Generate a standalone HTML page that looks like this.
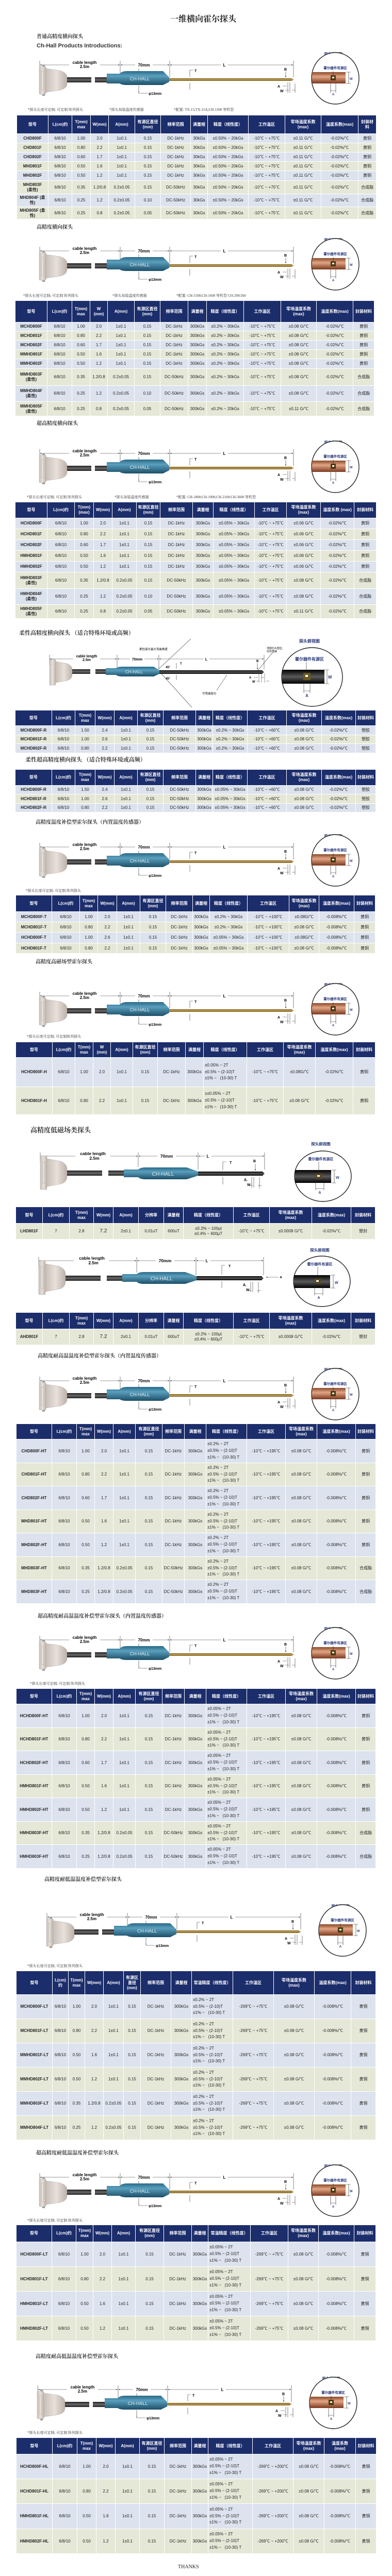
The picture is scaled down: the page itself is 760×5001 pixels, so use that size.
<!DOCTYPE html>
<html><head><meta charset="utf-8">
<style>
*{margin:0;padding:0;box-sizing:border-box}
html{width:760px;height:5001px;overflow:hidden}
body{width:760px;height:5001px;position:relative;background:#fff;overflow:hidden;font-family:"Liberation Sans","Noto Sans CJK SC",sans-serif}
.h{position:absolute;font-family:"Liberation Serif","Noto Serif CJK SC",serif;font-size:10px;line-height:14px;color:#333;white-space:nowrap;font-weight:bold}
.n{position:absolute;font-family:"Liberation Serif","Noto Serif CJK SC",serif;font-size:7px;line-height:10px;color:#333;white-space:nowrap}
table{position:absolute;border-collapse:collapse;table-layout:fixed;font-size:8px;color:#222}
th{background:#1c2d6b;color:#fff;font-weight:bold;border:1px solid #fff;line-height:1.25;text-align:center;font-size:8px;overflow:hidden;white-space:nowrap}
td{border:1px solid #fff;text-align:center;white-space:nowrap;overflow:hidden;line-height:1.2}
tr.a td{background:#dce3ee}
tr.b td{background:#e5e8d7}
td:first-child{font-weight:bold}
td.p{text-align:left;padding-left:2px;line-height:1.6}
svg.d{position:absolute;left:0}
</style></head><body>
<svg width="0" height="0" style="position:absolute">
<defs>
<linearGradient id="gb" x1="0" y1="0" x2="0" y2="1"><stop offset="0" stop-color="#2a6a88"/><stop offset=".35" stop-color="#5a9fbd"/><stop offset="1" stop-color="#1d4f68"/></linearGradient>
<linearGradient id="gr" x1="0" y1="0" x2="0" y2="1"><stop offset="0" stop-color="#6b5420"/><stop offset=".5" stop-color="#c8a54e"/><stop offset="1" stop-color="#6b5420"/></linearGradient>
<linearGradient id="gcu" x1="0" y1="0" x2="0" y2="1"><stop offset="0" stop-color="#8a4a2a"/><stop offset=".4" stop-color="#e2a584"/><stop offset="1" stop-color="#7a3a20"/></linearGradient>
<linearGradient id="gc" x1="0" y1="0" x2="1" y2="0"><stop offset="0" stop-color="#c9bfb8"/><stop offset=".5" stop-color="#e8e0da"/><stop offset="1" stop-color="#bdb2aa"/></linearGradient>
<linearGradient id="gk" x1="0" y1="0" x2="0" y2="1"><stop offset="0" stop-color="#1e1e1e"/><stop offset=".5" stop-color="#6a6a6a"/><stop offset="1" stop-color="#1e1e1e"/></linearGradient>
<linearGradient id="gbk" x1="0" y1="0" x2="0" y2="1"><stop offset="0" stop-color="#000"/><stop offset=".5" stop-color="#5a5a5a"/><stop offset="1" stop-color="#000"/></linearGradient>
<marker id="ah" viewBox="0 0 6 6" refX="6" refY="3" markerWidth="4" markerHeight="4" orient="auto-start-reverse"><path d="M0 0L6 3L0 6z" fill="#222"/></marker>
</defs></svg>

<div class="h" style="left:330px;top:27px;font-size:16px;line-height:22px;color:#222">一维横向霍尔探头</div>
<div class="h" style="left:71px;top:65px">普通高精度横向探头</div>
<div class="h" style="left:71px;top:82px;font-family:'Liberation Sans',sans-serif;font-size:11px">Ch-Hall Products Introductions:</div>

<svg class="d" style="top:100px" width="760" height="112" font-family="Liberation Sans,sans-serif">
<g stroke="#333" stroke-width=".6" fill="none"><path d="M77 18V40M233 18V46M329 18V50M569 18V50M368 36H374M269 77V81H286M548 67H556M553 75H560M558 60V80M562 60V80M572 62V80M566 75H572"/><line x1="78" y1="26" x2="232" y2="26" marker-start="url(#ah)" marker-end="url(#ah)"/><line x1="234" y1="26" x2="328" y2="26" marker-start="url(#ah)" marker-end="url(#ah)"/><line x1="330" y1="26" x2="568" y2="26" marker-start="url(#ah)" marker-end="url(#ah)"/><path d="M368 36V49M368 74V61M269 33V38M269 80V66M554 39V50" marker-end="url(#ah)"/></g>
<rect x="134" y="17" width="60" height="17" fill="#fff"/><text x="164" y="24" font-size="8" font-weight="bold" text-anchor="middle">cable length</text><text x="164" y="32" font-size="8" font-weight="bold" text-anchor="middle">2.5m</text>
<rect x="262" y="20" width="34" height="10" fill="#fff"/><text x="279" y="29" font-size="8" font-weight="bold" text-anchor="middle">70mm</text>
<rect x="428" y="20" width="14" height="10" fill="#fff"/><text x="435" y="29" font-size="8" font-weight="bold" text-anchor="middle">L</text>
<text x="377" y="40" font-size="7" font-weight="bold">T</text><text x="288" y="84" font-size="7" font-weight="bold">φ13mm</text><text x="551" y="37" font-size="7" font-weight="bold">B</text><text x="538" y="70" font-size="7" font-weight="bold">A</text><text x="543" y="79" font-size="7" font-weight="bold">W</text>
<rect x="82" y="26" width="5" height="4" fill="#999"/><rect x="82" y="82" width="5" height="4" fill="#999"/>
<rect x="76" y="29" width="13" height="54" rx="2" fill="url(#gc)" stroke="#aaa" stroke-width=".5"/><rect x="80" y="38" width="5" height="36" fill="none" stroke="#aaa" stroke-width=".5"/>
<path d="M89 33L116 37Q130 41 130 50L130 62Q130 72 116 75L89 79Z" fill="url(#gc)" stroke="#aaa" stroke-width=".5"/>
<rect x="130" y="50" width="47" height="10" fill="url(#gk)"/><rect x="184" y="50" width="28" height="10" fill="url(#gk)"/>
<path d="M207 43L232 43Q236 38 246 38L316 38L328 50L328 59L316 65L246 65Q236 65 232 62L207 62Z" fill="url(#gb)"/>
<text x="271" y="56" font-size="9" fill="#e0eef5" text-anchor="middle">CH-HALL</text>
<path d="M328 52L565 52L570 54.5L565 57L328 57Z" fill="url(#gr)"/>
<text x="646" y="7" font-size="7" font-weight="bold" fill="#2a3a7a" text-anchor="middle">探头俯视图</text>
<ellipse cx="650" cy="52" rx="46" ry="50" fill="#fff" stroke="#222" stroke-width="1.4"/>
<rect x="605" y="40" width="65" height="22" fill="url(#gcu)"/><rect x="641" y="46" width="10" height="10" fill="#4a3a10"/><rect x="644" y="49" width="4" height="3" fill="#fff"/>
<g stroke="#222" stroke-width=".6" fill="none"><path d="M671 40H680M671 62H680M676 40V62M641 62V80M651 62V80M641 76H651M646 38V46"/></g>
<text x="650" y="34" font-size="6.5" font-weight="bold" fill="#2a3a7a" text-anchor="middle">霍尔器件有源区</text><text x="678" y="55" font-size="6" font-weight="bold" fill="#2a3a7a">W</text><text x="646" y="85" font-size="6" font-weight="bold" fill="#2a3a7a" text-anchor="middle">A</text>
</svg>

<div class="n" style="left:54px;top:208px">*探头长度可定制; 可定制 阵列探头</div>
<div class="n" style="left:212px;top:208px">*探头加装温度传感器</div>
<div class="n" style="left:337px;top:208px">*配置: TX-15;TX-15A;CH-1300 等机型</div>

<table style="left:32px;top:223px;width:697px">
<colgroup><col style="width:61px"><col style="width:46px"><col style="width:36px"><col style="width:35px"><col style="width:51px"><col style="width:50px"><col style="width:58px"><col style="width:33px"><col style="width:79px"><col style="width:71px"><col style="width:70px"><col style="width:72px"><col style="width:35px"></colgroup>
<tr style="height:36px"><th>型号</th><th>L(cm)约</th><th>T(mm)<br>max</th><th>W(mm)</th><th>A(mm)</th><th>有源区直径<br>(mm)</th><th>频率范围</th><th>满量程</th><th>精度（线性度）</th><th>工作温区</th><th>零场温度系数<br>(max)</th><th>温度系数(max)</th><th>封装材<br>料</th></tr>
<tr class="a" style="height:18px"><td>CHD800F</td><td>6/8/10</td><td>1.00</td><td>2.0</td><td>1±0.1</td><td>0.15</td><td>DC-1kHz</td><td>30kGs</td><td>±0.50% ~ 20kGs</td><td>-10℃ ~ +75℃</td><td>±0.11 G/℃</td><td>-0.02%/℃</td><td>黄铜</td></tr>
<tr class="b" style="height:18px"><td>CHD801F</td><td>6/8/10</td><td>0.80</td><td>2.2</td><td>1±0.1</td><td>0.15</td><td>DC-1kHz</td><td>30kGs</td><td>±0.50% ~ 20kGs</td><td>-10℃ ~ +75℃</td><td>±0.11 G/℃</td><td>-0.02%/℃</td><td>黄铜</td></tr>
<tr class="a" style="height:18px"><td>CHD802F</td><td>6/8/10</td><td>0.60</td><td>1.7</td><td>1±0.1</td><td>0.15</td><td>DC-1kHz</td><td>30kGs</td><td>±0.50% ~ 20kGs</td><td>-10℃ ~ +75℃</td><td>±0.11 G/℃</td><td>-0.02%/℃</td><td>黄铜</td></tr>
<tr class="b" style="height:18px"><td>MHD801F</td><td>6/8/10</td><td>0.50</td><td>1.6</td><td>1±0.1</td><td>0.15</td><td>DC-1kHz</td><td>30kGs</td><td>±0.50% ~ 20kGs</td><td>-10℃ ~ +75℃</td><td>±0.11 G/℃</td><td>-0.02%/℃</td><td>黄铜</td></tr>
<tr class="a" style="height:19px"><td>MHD802F</td><td>6/8/10</td><td>0.50</td><td>1.2</td><td>1±0.1</td><td>0.15</td><td>DC-1kHz</td><td>30kGs</td><td>±0.50% ~ 20kGs</td><td>-10℃ ~ +75℃</td><td>±0.11 G/℃</td><td>-0.02%/℃</td><td>黄铜</td></tr>
<tr class="b" style="height:26px"><td>MHD803F<br>(柔性)</td><td>6/8/10</td><td>0.35</td><td>1.2/0.8</td><td>0.2±0.05</td><td>0.15</td><td>DC-50kHz</td><td>30kGs</td><td>±0.50% ~ 20kGs</td><td>-10℃ ~ +75℃</td><td>±0.11 G/℃</td><td>-0.02%/℃</td><td>合成脂</td></tr>
<tr class="a" style="height:25px"><td>MHD804F (柔<br>性)</td><td>6/8/10</td><td>0.25</td><td>1.2</td><td>0.2±0.05</td><td>0.10</td><td>DC-50kHz</td><td>30kGs</td><td>±0.50% ~ 20kGs</td><td>-10℃ ~ +75℃</td><td>±0.11 G/℃</td><td>-0.02%/℃</td><td>合成脂</td></tr>
<tr class="b" style="height:24px"><td>MHD805F (柔<br>性)</td><td>6/8/10</td><td>0.25</td><td>0.8</td><td>0.2±0.05</td><td>0.05</td><td>DC-50kHz</td><td>30kGs</td><td>±0.50% ~ 20kGs</td><td>-10℃ ~ +75℃</td><td>±0.11 G/℃</td><td>-0.02%/℃</td><td>合成脂</td></tr>
</table>

<div class="h" style="left:71px;top:435px">高精度横向探头</div>
<svg class="d" style="top:461px" width="760" height="112" font-family="Liberation Sans,sans-serif">
<g stroke="#333" stroke-width=".6" fill="none"><path d="M77 18V40M233 18V46M329 18V50M569 18V50M368 36H374M269 77V81H286M548 67H556M553 75H560M558 60V80M562 60V80M572 62V80M566 75H572"/><line x1="78" y1="26" x2="232" y2="26" marker-start="url(#ah)" marker-end="url(#ah)"/><line x1="234" y1="26" x2="328" y2="26" marker-start="url(#ah)" marker-end="url(#ah)"/><line x1="330" y1="26" x2="568" y2="26" marker-start="url(#ah)" marker-end="url(#ah)"/><path d="M368 36V49M368 74V61M269 33V38M269 80V66M554 39V50" marker-end="url(#ah)"/></g>
<rect x="134" y="17" width="60" height="17" fill="#fff"/><text x="164" y="24" font-size="8" font-weight="bold" text-anchor="middle">cable length</text><text x="164" y="32" font-size="8" font-weight="bold" text-anchor="middle">2.5m</text>
<rect x="262" y="20" width="34" height="10" fill="#fff"/><text x="279" y="29" font-size="8" font-weight="bold" text-anchor="middle">70mm</text>
<rect x="428" y="20" width="14" height="10" fill="#fff"/><text x="435" y="29" font-size="8" font-weight="bold" text-anchor="middle">L</text>
<text x="377" y="40" font-size="7" font-weight="bold">T</text><text x="288" y="84" font-size="7" font-weight="bold">φ13mm</text><text x="551" y="37" font-size="7" font-weight="bold">B</text><text x="538" y="70" font-size="7" font-weight="bold">A</text><text x="543" y="79" font-size="7" font-weight="bold">W</text>
<rect x="82" y="26" width="5" height="4" fill="#999"/><rect x="82" y="82" width="5" height="4" fill="#999"/>
<rect x="76" y="29" width="13" height="54" rx="2" fill="url(#gc)" stroke="#aaa" stroke-width=".5"/><rect x="80" y="38" width="5" height="36" fill="none" stroke="#aaa" stroke-width=".5"/>
<path d="M89 33L116 37Q130 41 130 50L130 62Q130 72 116 75L89 79Z" fill="url(#gc)" stroke="#aaa" stroke-width=".5"/>
<rect x="130" y="50" width="47" height="10" fill="url(#gk)"/><rect x="184" y="50" width="28" height="10" fill="url(#gk)"/>
<path d="M207 43L232 43Q236 38 246 38L316 38L328 50L328 59L316 65L246 65Q236 65 232 62L207 62Z" fill="url(#gb)"/>
<text x="271" y="56" font-size="9" fill="#e0eef5" text-anchor="middle">CH-HALL</text>
<path d="M328 52L565 52L570 54.5L565 57L328 57Z" fill="url(#gr)"/>
<text x="646" y="7" font-size="7" font-weight="bold" fill="#2a3a7a" text-anchor="middle">探头俯视图</text>
<ellipse cx="650" cy="52" rx="46" ry="50" fill="#fff" stroke="#222" stroke-width="1.4"/>
<rect x="605" y="40" width="65" height="22" fill="url(#gcu)"/><rect x="641" y="46" width="10" height="10" fill="#4a3a10"/><rect x="644" y="49" width="4" height="3" fill="#fff"/>
<g stroke="#222" stroke-width=".6" fill="none"><path d="M671 40H680M671 62H680M676 40V62M641 62V80M651 62V80M641 76H651M646 38V46"/></g>
<text x="650" y="34" font-size="6.5" font-weight="bold" fill="#2a3a7a" text-anchor="middle">霍尔器件有源区</text><text x="678" y="55" font-size="6" font-weight="bold" fill="#2a3a7a">W</text><text x="646" y="85" font-size="6" font-weight="bold" fill="#2a3a7a" text-anchor="middle">A</text>
</svg>
<div class="n" style="left:45px;top:569px">*探头长度可定制; 可定制 阵列探头</div>
<div class="n" style="left:218px;top:569px">*探头加装温度传感器</div>
<div class="n" style="left:342px;top:569px">*配置: CH-1500;CH-1600 等机型 CH-290/260</div>

<table style="left:29px;top:583px;width:696px">
<colgroup><col style="width:62px"><col style="width:48px"><col style="width:35px"><col style="width:34px"><col style="width:52px"><col style="width:50px"><col style="width:54px"><col style="width:36px"><col style="width:72px"><col style="width:72px"><col style="width:69px"><col style="width:71px"><col style="width:41px"></colgroup>
<tr style="height:42px"><th>型号</th><th>L(cm)约</th><th>T(mm)<br>max</th><th>W<br>(mm)</th><th>A(mm)</th><th>有源区直径<br>(mm)</th><th>频率范围</th><th>满量程</th><th>精度（线性度）</th><th>工作温区</th><th>零场温度系数<br>(max)</th><th>温度系数(max)</th><th>封装材料</th></tr>
<tr class="a" style="height:17px"><td>MCHD800F</td><td>6/8/10</td><td>1.00</td><td>2.0</td><td>1±0.1</td><td>0.15</td><td>DC-1kHz</td><td>300kGs</td><td>±0.2% ~ 30kGs</td><td>-10℃ ~ +75℃</td><td>±0.08 G/℃</td><td>-0.02%/℃</td><td>黄铜</td></tr>
<tr class="b" style="height:18px"><td>MCHD801F</td><td>6/8/10</td><td>0.80</td><td>2.2</td><td>1±0.1</td><td>0.15</td><td>DC-1kHz</td><td>300kGs</td><td>±0.2% ~ 30kGs</td><td>-10℃ ~ +75℃</td><td>±0.08 G/℃</td><td>-0.02%/℃</td><td>黄铜</td></tr>
<tr class="a" style="height:18px"><td>MCHD802F</td><td>6/8/10</td><td>0.60</td><td>1.7</td><td>1±0.1</td><td>0.15</td><td>DC-1kHz</td><td>300kGs</td><td>±0.2% ~ 30kGs</td><td>-10℃ ~ +75℃</td><td>±0.08 G/℃</td><td>-0.02%/℃</td><td>黄铜</td></tr>
<tr class="b" style="height:18px"><td>MMHD801F</td><td>6/8/10</td><td>0.50</td><td>1.6</td><td>1±0.1</td><td>0.15</td><td>DC-1kHz</td><td>300kGs</td><td>±0.2% ~ 30kGs</td><td>-10℃ ~ +75℃</td><td>±0.08 G/℃</td><td>-0.02%/℃</td><td>黄铜</td></tr>
<tr class="a" style="height:19px"><td>MMHD802F</td><td>6/8/10</td><td>0.50</td><td>1.2</td><td>1±0.1</td><td>0.15</td><td>DC-1kHz</td><td>300kGs</td><td>±0.2% ~ 30kGs</td><td>-10℃ ~ +75℃</td><td>±0.08 G/℃</td><td>-0.02%/℃</td><td>黄铜</td></tr>
<tr class="b" style="height:33px"><td>MMHD803F<br>(柔性)</td><td>6/8/10</td><td>0.35</td><td>1.2/0.8</td><td>0.2±0.05</td><td>0.15</td><td>DC-50kHz</td><td>300kGs</td><td>±0.2% ~ 30kGs</td><td>-10℃ ~ +75℃</td><td>±0.08 G/℃</td><td>-0.02%/℃</td><td>合成脂</td></tr>
<tr class="a" style="height:31px"><td>MMHD804F<br>(柔性)</td><td>6/8/10</td><td>0.25</td><td>1.2</td><td>0.2±0.05</td><td>0.10</td><td>DC-50kHz</td><td>300kGs</td><td>±0.2% ~ 30kGs</td><td>-10℃ ~ +75℃</td><td>±0.08 G/℃</td><td>-0.02%/℃</td><td>合成脂</td></tr>
<tr class="b" style="height:28px"><td>MMHD805F<br>(柔性)</td><td>6/8/10</td><td>0.25</td><td>0.8</td><td>0.2±0.05</td><td>0.05</td><td>DC-50kHz</td><td>300kGs</td><td>±0.2% ~ 20kGs</td><td>-10℃ ~ +75℃</td><td>±0.11 G/℃</td><td>-0.02%/℃</td><td>合成脂</td></tr>
</table>

<div class="h" style="left:71px;top:816px">超高精度横向探头</div>
<svg class="d" style="top:854px" width="760" height="112" font-family="Liberation Sans,sans-serif">
<g stroke="#333" stroke-width=".6" fill="none"><path d="M77 18V40M233 18V46M329 18V50M569 18V50M368 36H374M269 77V81H286M548 67H556M553 75H560M558 60V80M562 60V80M572 62V80M566 75H572"/><line x1="78" y1="26" x2="232" y2="26" marker-start="url(#ah)" marker-end="url(#ah)"/><line x1="234" y1="26" x2="328" y2="26" marker-start="url(#ah)" marker-end="url(#ah)"/><line x1="330" y1="26" x2="568" y2="26" marker-start="url(#ah)" marker-end="url(#ah)"/><path d="M368 36V49M368 74V61M269 33V38M269 80V66M554 39V50" marker-end="url(#ah)"/></g>
<rect x="134" y="17" width="60" height="17" fill="#fff"/><text x="164" y="24" font-size="8" font-weight="bold" text-anchor="middle">cable length</text><text x="164" y="32" font-size="8" font-weight="bold" text-anchor="middle">2.5m</text>
<rect x="262" y="20" width="34" height="10" fill="#fff"/><text x="279" y="29" font-size="8" font-weight="bold" text-anchor="middle">70mm</text>
<rect x="428" y="20" width="14" height="10" fill="#fff"/><text x="435" y="29" font-size="8" font-weight="bold" text-anchor="middle">L</text>
<text x="377" y="40" font-size="7" font-weight="bold">T</text><text x="288" y="84" font-size="7" font-weight="bold">φ13mm</text><text x="551" y="37" font-size="7" font-weight="bold">B</text><text x="538" y="70" font-size="7" font-weight="bold">A</text><text x="543" y="79" font-size="7" font-weight="bold">W</text>
<rect x="82" y="26" width="5" height="4" fill="#999"/><rect x="82" y="82" width="5" height="4" fill="#999"/>
<rect x="76" y="29" width="13" height="54" rx="2" fill="url(#gc)" stroke="#aaa" stroke-width=".5"/><rect x="80" y="38" width="5" height="36" fill="none" stroke="#aaa" stroke-width=".5"/>
<path d="M89 33L116 37Q130 41 130 50L130 62Q130 72 116 75L89 79Z" fill="url(#gc)" stroke="#aaa" stroke-width=".5"/>
<rect x="130" y="50" width="47" height="10" fill="url(#gk)"/><rect x="184" y="50" width="28" height="10" fill="url(#gk)"/>
<path d="M207 43L232 43Q236 38 246 38L316 38L328 50L328 59L316 65L246 65Q236 65 232 62L207 62Z" fill="url(#gb)"/>
<text x="271" y="56" font-size="9" fill="#e0eef5" text-anchor="middle">CH-HALL</text>
<path d="M328 52L565 52L570 54.5L565 57L328 57Z" fill="url(#gr)"/>
<text x="646" y="7" font-size="7" font-weight="bold" fill="#2a3a7a" text-anchor="middle">探头俯视图</text>
<ellipse cx="650" cy="52" rx="46" ry="50" fill="#fff" stroke="#222" stroke-width="1.4"/>
<rect x="605" y="40" width="65" height="22" fill="url(#gcu)"/><rect x="641" y="46" width="10" height="10" fill="#4a3a10"/><rect x="644" y="49" width="4" height="3" fill="#fff"/>
<g stroke="#222" stroke-width=".6" fill="none"><path d="M671 40H680M671 62H680M676 40V62M641 62V80M651 62V80M641 76H651M646 38V46"/></g>
<text x="650" y="34" font-size="6.5" font-weight="bold" fill="#2a3a7a" text-anchor="middle">霍尔器件有源区</text><text x="678" y="55" font-size="6" font-weight="bold" fill="#2a3a7a">W</text><text x="646" y="85" font-size="6" font-weight="bold" fill="#2a3a7a" text-anchor="middle">A</text>
</svg>
<div class="n" style="left:52px;top:960px">*探头长度可定制; 可定制 阵列探头</div>
<div class="n" style="left:222px;top:960px">*探头加装温度传感器</div>
<div class="n" style="left:342px;top:960px">*配置: CH-1800;CH-1900;CH-2100;CH-3600 等机型</div>

<table style="left:29px;top:974px;width:700px">
<colgroup><col style="width:62px"><col style="width:53px"><col style="width:37px"><col style="width:36px"><col style="width:47px"><col style="width:46px"><col style="width:63px"><col style="width:40px"><col style="width:80px"><col style="width:62px"><col style="width:66px"><col style="width:65px"><col style="width:43px"></colgroup>
<tr style="height:31px"><th>型号</th><th>L(cm)约</th><th>T(mm)<br>(max)</th><th>W(mm)</th><th>A(mm)</th><th>有源区直径<br>(mm)</th><th>频率范围</th><th>满量程</th><th>精度（线性度）</th><th>工作温区</th><th>零场温度系数<br>(max)</th><th>温度系数 (max)</th><th>封装材料</th></tr>
<tr class="a" style="height:21px"><td>HCHD800F</td><td>6/8/10</td><td>1.00</td><td>2.0</td><td>1±0.1</td><td>0.15</td><td>DC-1kHz</td><td>300kGs</td><td>±0.05% ~ 30kGs</td><td>-10℃ ~ +75℃</td><td>±0.06 G/℃</td><td>-0.02%/℃</td><td>黄铜</td></tr>
<tr class="b" style="height:21px"><td>HCHD801F</td><td>6/8/10</td><td>0.80</td><td>2.2</td><td>1±0.1</td><td>0.15</td><td>DC-1kHz</td><td>300kGs</td><td>±0.05% ~ 30kGs</td><td>-10℃ ~ +75℃</td><td>±0.06 G/℃</td><td>-0.02%/℃</td><td>黄铜</td></tr>
<tr class="a" style="height:21px"><td>HCHD802F</td><td>6/8/10</td><td>0.60</td><td>1.7</td><td>1±0.1</td><td>0.15</td><td>DC-1kHz</td><td>300kGs</td><td>±0.05% ~ 30kGs</td><td>-10℃ ~ +75℃</td><td>±0.06 G/℃</td><td>-0.02%/℃</td><td>黄铜</td></tr>
<tr class="b" style="height:21px"><td>HMHD801F</td><td>6/8/10</td><td>0.50</td><td>1.6</td><td>1±0.1</td><td>0.15</td><td>DC-1kHz</td><td>300kGs</td><td>±0.05% ~ 30kGs</td><td>-10℃ ~ +75℃</td><td>±0.06 G/℃</td><td>-0.02%/℃</td><td>黄铜</td></tr>
<tr class="a" style="height:21px"><td>HMHD802F</td><td>6/8/10</td><td>0.50</td><td>1.2</td><td>1±0.1</td><td>0.15</td><td>DC-1kHz</td><td>300kGs</td><td>±0.05% ~ 30kGs</td><td>-10℃ ~ +75℃</td><td>±0.06 G/℃</td><td>-0.02%/℃</td><td>黄铜</td></tr>
<tr class="b" style="height:32px"><td>HMHD803F<br>(柔性)</td><td>6/8/10</td><td>0.35</td><td>1.2/0.8</td><td>0.2±0.05</td><td>0.15</td><td>DC-50kHz</td><td>300kGs</td><td>±0.05% ~ 30kGs</td><td>-10℃ ~ +75℃</td><td>±0.08 G/℃</td><td>-0.02%/℃</td><td>合成脂</td></tr>
<tr class="a" style="height:31px"><td>HMHD804F<br>(柔性)</td><td>6/8/10</td><td>0.25</td><td>1.2</td><td>0.2±0.05</td><td>0.10</td><td>DC-50kHz</td><td>300kGs</td><td>±0.05% ~ 30kGs</td><td>-10℃ ~ +75℃</td><td>±0.08 G/℃</td><td>-0.02%/℃</td><td>合成脂</td></tr>
<tr class="b" style="height:27px"><td>HMHD805F<br>(柔性)</td><td>6/8/10</td><td>0.25</td><td>0.8</td><td>0.2±0.05</td><td>0.05</td><td>DC-50kHz</td><td>300kGs</td><td>±0.05% ~ 30kGs</td><td>-10℃ ~ +75℃</td><td>±0.11 G/℃</td><td>-0.02%/℃</td><td>合成脂</td></tr>
</table>

<div class="h" style="left:37px;top:1222px;font-size:11px">柔性高精度横向探头 （适合特殊环境或高频）</div>
<svg class="d" style="top:1235px" width="760" height="145" font-family="Liberation Sans,sans-serif">
<g stroke="#333" stroke-width=".6" fill="none"><path d="M96 36V56M227 36V60M308 36V64M512 36V64M370 5L306 65L372 138M530 30L500 66M420 105L440 75"/><line x1="97" y1="44" x2="226" y2="44" marker-start="url(#ah)" marker-end="url(#ah)"/><line x1="228" y1="44" x2="307" y2="44" marker-start="url(#ah)" marker-end="url(#ah)"/><line x1="309" y1="44" x2="511" y2="44" marker-start="url(#ah)" marker-end="url(#ah)"/><path d="M342 52V63M342 85V75M499 52V64" marker-end="url(#ah)"/></g>
<rect x="142" y="35" width="52" height="15" fill="#fff"/><text x="168" y="41" font-size="7" font-weight="bold" text-anchor="middle">cable length</text><text x="168" y="48" font-size="7" font-weight="bold" text-anchor="middle">2.5m</text>
<rect x="252" y="39" width="28" height="9" fill="#fff"/><text x="266" y="47" font-size="7" font-weight="bold" text-anchor="middle">70mm</text>
<rect x="394" y="39" width="12" height="9" fill="#fff"/><text x="400" y="47" font-size="7" font-weight="bold" text-anchor="middle">L</text>
<text x="270" y="27" font-size="5.5">柔性探头最大弯曲角度</text><text x="517" y="25" font-size="5">顶部芯片部位,</text><text x="517" y="31" font-size="5">切勿弯曲</text><text x="392" y="113" font-size="5.5">可弯曲部分</text>
<text x="321" y="62" font-size="6" font-weight="bold">45°</text><text x="321" y="84" font-size="6" font-weight="bold">45°</text><text x="349" y="55" font-size="6" font-weight="bold">T</text><text x="497" y="50" font-size="6" font-weight="bold">B</text><text x="483" y="82" font-size="6" font-weight="bold">A</text><text x="489" y="90" font-size="6" font-weight="bold">W</text>
<g stroke="#333" stroke-width=".5"><path d="M492 80H500M506 80H512M497 87H503M516 87H522M502 72V90M507 72V90M513 72V90"/></g>
<rect x="96" y="45" width="12" height="50" rx="2" fill="url(#gc)" stroke="#aaa" stroke-width=".5"/>
<path d="M108 49L130 53Q140 57 140 64L140 74Q140 83 130 86L108 90Z" fill="url(#gc)" stroke="#aaa" stroke-width=".5"/>
<rect x="140" y="64" width="35" height="9" fill="url(#gk)"/><rect x="185" y="64" width="22" height="9" fill="url(#gk)"/>
<path d="M205 62L225 62Q228 59 238 59L298 59L309 66L309 73L298 78L238 78Q228 78 225 75L205 75Z" fill="url(#gb)"/>
<text x="260" y="72" font-size="8" fill="#e0eef5" text-anchor="middle">CH-HALL</text>
<path d="M309 66L508 66L512 69.5L508 73L309 73Z" fill="url(#gbk)"/>
<text x="600" y="12" font-size="8" font-weight="bold" fill="#2a3a7a" text-anchor="middle">探头俯视图</text>
<ellipse cx="605" cy="79" rx="59" ry="57" fill="#fff" stroke="#222" stroke-width="1.4"/>
<rect x="547" y="65" width="82" height="27" fill="url(#gbk)"/><rect x="588" y="71" width="14" height="14" fill="#6a5a20"/><rect x="592" y="75" width="5" height="4" fill="#fff"/>
<g stroke="#222" stroke-width=".6" fill="none"><path d="M629 65H638M629 92H638M634 65V92M589 85V110M601 85V110M589 106H601M594 50V71"/></g>
<text x="600" y="47" font-size="8" font-weight="bold" fill="#2a3a7a" text-anchor="middle">霍尔器件有源区</text><text x="636" y="82" font-size="8" font-weight="bold" fill="#2a3a7a">W</text><text x="595" y="118" font-size="8" font-weight="bold" fill="#2a3a7a" text-anchor="middle">A</text>
</svg>

<table style="left:29px;top:1378px;width:699px">
<colgroup><col style="width:71px"><col style="width:45px"><col style="width:39px"><col style="width:37px"><col style="width:45px"><col style="width:50px"><col style="width:63px"><col style="width:33px"><col style="width:67px"><col style="width:76px"><col style="width:68px"><col style="width:66px"><col style="width:39px"></colgroup>
<tr style="height:30px"><th>型号</th><th>L(cm)约</th><th>T(mm)<br>max</th><th>W(mm)</th><th>A(mm)</th><th>有源区直径<br>(mm)</th><th>频率范围</th><th>满量程</th><th>精度（线性度）</th><th>工作温区</th><th>零场温度系数<br>(max)</th><th>温度系数(max)</th><th>封装材料</th></tr>
<tr class="a" style="height:18px"><td>MCHD800F-R</td><td>6/8/10</td><td>1.50</td><td>2.4</td><td>1±0.1</td><td>0.15</td><td>DC-50kHz</td><td>300kGs</td><td>±0.2% ~ 30kGs</td><td>-10℃ ~ +60℃</td><td>±0.08 G/℃</td><td>-0.02%/℃</td><td>塑胶</td></tr>
<tr class="b" style="height:17px"><td>MCHD801F-R</td><td>6/8/10</td><td>1.00</td><td>2.6</td><td>1±0.1</td><td>0.15</td><td>DC-50kHz</td><td>300kGs</td><td>±0.2% ~ 30kGs</td><td>-10℃ ~ +60℃</td><td>±0.08 G/℃</td><td>-0.02%/℃</td><td>塑胶</td></tr>
<tr class="a" style="height:18px"><td>MCHD802F-R</td><td>6/8/10</td><td>0.80</td><td>2.2</td><td>1±0.1</td><td>0.15</td><td>DC-50kHz</td><td>300kGs</td><td>±0.2% ~ 30kGs</td><td>-10℃ ~ +60℃</td><td>±0.08 G/℃</td><td>-0.02%/℃</td><td>塑胶</td></tr>
</table>

<div class="h" style="left:49px;top:1468px;font-size:11px">柔性超高精度横向探头 （适合特殊环境或高频）</div>
<table style="left:29px;top:1493px;width:699px">
<colgroup><col style="width:71px"><col style="width:45px"><col style="width:39px"><col style="width:37px"><col style="width:45px"><col style="width:50px"><col style="width:63px"><col style="width:33px"><col style="width:67px"><col style="width:76px"><col style="width:68px"><col style="width:66px"><col style="width:39px"></colgroup>
<tr style="height:31px"><th>型号</th><th>L(cm)约</th><th>T(mm)<br>max</th><th>W(mm)</th><th>A(mm)</th><th>有源区直径<br>(mm)</th><th>频率范围</th><th>满量程</th><th>精度（线性度）</th><th>工作温区</th><th>零场温度系数<br>(max)</th><th>温度系数(max)</th><th>封装材料</th></tr>
<tr class="a" style="height:17px"><td>HCHD800F-R</td><td>6/8/10</td><td>1.50</td><td>2.4</td><td>1±0.1</td><td>0.15</td><td>DC-50kHz</td><td>300kGs</td><td>±0.05% ~ 30kGs</td><td>-10℃ ~ +60℃</td><td>±0.08 G/℃</td><td>-0.02%/℃</td><td>塑胶</td></tr>
<tr class="b" style="height:18px"><td>HCHD801F-R</td><td>6/8/10</td><td>1.00</td><td>2.6</td><td>1±0.1</td><td>0.15</td><td>DC-50kHz</td><td>300kGs</td><td>±0.05% ~ 30kGs</td><td>-10℃ ~ +60℃</td><td>±0.08 G/℃</td><td>-0.02%/℃</td><td>塑胶</td></tr>
<tr class="a" style="height:17px"><td>HCHD802F-R</td><td>6/8/10</td><td>0.80</td><td>2.2</td><td>1±0.1</td><td>0.15</td><td>DC-50kHz</td><td>300kGs</td><td>±0.05% ~ 30kGs</td><td>-10℃ ~ +60℃</td><td>±0.08 G/℃</td><td>-0.02%/℃</td><td>塑胶</td></tr>
</table>

<div class="h" style="left:69px;top:1590px">高精度温度补偿型霍尔探头（内置温度传感器）</div>
<svg class="d" style="top:1618px" width="760" height="112" font-family="Liberation Sans,sans-serif">
<g stroke="#333" stroke-width=".6" fill="none"><path d="M77 18V40M233 18V46M329 18V50M569 18V50M368 36H374M269 77V81H286M548 67H556M553 75H560M558 60V80M562 60V80M572 62V80M566 75H572"/><line x1="78" y1="26" x2="232" y2="26" marker-start="url(#ah)" marker-end="url(#ah)"/><line x1="234" y1="26" x2="328" y2="26" marker-start="url(#ah)" marker-end="url(#ah)"/><line x1="330" y1="26" x2="568" y2="26" marker-start="url(#ah)" marker-end="url(#ah)"/><path d="M368 36V49M368 74V61M269 33V38M269 80V66M554 39V50" marker-end="url(#ah)"/></g>
<rect x="134" y="17" width="60" height="17" fill="#fff"/><text x="164" y="24" font-size="8" font-weight="bold" text-anchor="middle">cable length</text><text x="164" y="32" font-size="8" font-weight="bold" text-anchor="middle">2.5m</text>
<rect x="262" y="20" width="34" height="10" fill="#fff"/><text x="279" y="29" font-size="8" font-weight="bold" text-anchor="middle">70mm</text>
<rect x="428" y="20" width="14" height="10" fill="#fff"/><text x="435" y="29" font-size="8" font-weight="bold" text-anchor="middle">L</text>
<text x="377" y="40" font-size="7" font-weight="bold">T</text><text x="288" y="84" font-size="7" font-weight="bold">φ13mm</text><text x="551" y="37" font-size="7" font-weight="bold">B</text><text x="538" y="70" font-size="7" font-weight="bold">A</text><text x="543" y="79" font-size="7" font-weight="bold">W</text>
<rect x="82" y="26" width="5" height="4" fill="#999"/><rect x="82" y="82" width="5" height="4" fill="#999"/>
<rect x="76" y="29" width="13" height="54" rx="2" fill="url(#gc)" stroke="#aaa" stroke-width=".5"/><rect x="80" y="38" width="5" height="36" fill="none" stroke="#aaa" stroke-width=".5"/>
<path d="M89 33L116 37Q130 41 130 50L130 62Q130 72 116 75L89 79Z" fill="url(#gc)" stroke="#aaa" stroke-width=".5"/>
<rect x="130" y="50" width="47" height="10" fill="url(#gk)"/><rect x="184" y="50" width="28" height="10" fill="url(#gk)"/>
<path d="M207 43L232 43Q236 38 246 38L316 38L328 50L328 59L316 65L246 65Q236 65 232 62L207 62Z" fill="url(#gb)"/>
<text x="271" y="56" font-size="9" fill="#e0eef5" text-anchor="middle">CH-HALL</text>
<path d="M328 52L565 52L570 54.5L565 57L328 57Z" fill="url(#gr)"/>
<text x="646" y="7" font-size="7" font-weight="bold" fill="#2a3a7a" text-anchor="middle">探头俯视图</text>
<ellipse cx="650" cy="52" rx="46" ry="50" fill="#fff" stroke="#222" stroke-width="1.4"/>
<rect x="605" y="40" width="65" height="22" fill="url(#gcu)"/><rect x="641" y="46" width="10" height="10" fill="#4a3a10"/><rect x="644" y="49" width="4" height="3" fill="#fff"/>
<g stroke="#222" stroke-width=".6" fill="none"><path d="M671 40H680M671 62H680M676 40V62M641 62V80M651 62V80M641 76H651M646 38V46"/></g>
<text x="650" y="34" font-size="6.5" font-weight="bold" fill="#2a3a7a" text-anchor="middle">霍尔器件有源区</text><text x="678" y="55" font-size="6" font-weight="bold" fill="#2a3a7a">W</text><text x="646" y="85" font-size="6" font-weight="bold" fill="#2a3a7a" text-anchor="middle">A</text>
</svg>
<div class="n" style="left:50px;top:1724px">*探头长度可定制; 可定制 阵列探头</div>

<table style="left:30px;top:1737px;width:697px">
<colgroup><col style="width:70px"><col style="width:54px"><col style="width:35px"><col style="width:37px"><col style="width:45px"><col style="width:50px"><col style="width:52px"><col style="width:33px"><col style="width:73px"><col style="width:81px"><col style="width:58px"><col style="width:68px"><col style="width:41px"></colgroup>
<tr style="height:32px"><th>型号</th><th>L(cm)约</th><th>T(mm)<br>max</th><th>W(mm)</th><th>A(mm)</th><th>有源区直径<br>(mm)</th><th>频率范围</th><th>满量程</th><th>精度（线性度）</th><th>工作温区</th><th>零场温度系数<br>(max)</th><th>温度系数(max)</th><th>封装材料</th></tr>
<tr class="a" style="height:20px"><td>MCHD800F-T</td><td>6/8/10</td><td>1.00</td><td>2.0</td><td>1±0.1</td><td>0.15</td><td>DC-1kHz</td><td>300kGs</td><td>±0.2% ~ 30kGs</td><td>-10℃ ~ +100℃</td><td>±0.08G/℃</td><td>-0.008%/℃</td><td>黄铜</td></tr>
<tr class="b" style="height:20px"><td>MCHD801F-T</td><td>6/8/10</td><td>0.80</td><td>2.2</td><td>1±0.1</td><td>0.15</td><td>DC-1kHz</td><td>300kGs</td><td>±0.2% ~ 30kGs</td><td>-10℃ ~ +100℃</td><td>±0.08 G/℃</td><td>-0.008%/℃</td><td>黄铜</td></tr>
<tr class="a" style="height:21px"><td>HCHD800F-T</td><td>6/8/10</td><td>1.00</td><td>2.6</td><td>1±0.1</td><td>0.15</td><td>DC-1kHz</td><td>300kGs</td><td>±0.05% ~ 30kGs</td><td>-10℃ ~ +100℃</td><td>±0.08G/℃</td><td>-0.008%/℃</td><td>黄铜</td></tr>
<tr class="b" style="height:20px"><td>HCHD801F-T</td><td>6/8/10</td><td>0.80</td><td>2.2</td><td>1±0.1</td><td>0.15</td><td>DC-1kHz</td><td>300kGs</td><td>±0.05% ~ 30kGs</td><td>-10℃ ~ +100℃</td><td>±0.08 G/℃</td><td>-0.008%/℃</td><td>黄铜</td></tr>
</table>

<div class="h" style="left:69px;top:1861px">高精度高磁场型霍尔探头</div>
<svg class="d" style="top:1907px" width="760" height="112" font-family="Liberation Sans,sans-serif">
<g stroke="#333" stroke-width=".6" fill="none"><path d="M77 18V40M233 18V46M329 18V50M569 18V50M368 36H374M269 77V81H286M548 67H556M553 75H560M558 60V80M562 60V80M572 62V80M566 75H572"/><line x1="78" y1="26" x2="232" y2="26" marker-start="url(#ah)" marker-end="url(#ah)"/><line x1="234" y1="26" x2="328" y2="26" marker-start="url(#ah)" marker-end="url(#ah)"/><line x1="330" y1="26" x2="568" y2="26" marker-start="url(#ah)" marker-end="url(#ah)"/><path d="M368 36V49M368 74V61M269 33V38M269 80V66M554 39V50" marker-end="url(#ah)"/></g>
<rect x="134" y="17" width="60" height="17" fill="#fff"/><text x="164" y="24" font-size="8" font-weight="bold" text-anchor="middle">cable length</text><text x="164" y="32" font-size="8" font-weight="bold" text-anchor="middle">2.5m</text>
<rect x="262" y="20" width="34" height="10" fill="#fff"/><text x="279" y="29" font-size="8" font-weight="bold" text-anchor="middle">70mm</text>
<rect x="428" y="20" width="14" height="10" fill="#fff"/><text x="435" y="29" font-size="8" font-weight="bold" text-anchor="middle">L</text>
<text x="377" y="40" font-size="7" font-weight="bold">T</text><text x="288" y="84" font-size="7" font-weight="bold">φ13mm</text><text x="551" y="37" font-size="7" font-weight="bold">B</text><text x="538" y="70" font-size="7" font-weight="bold">A</text><text x="543" y="79" font-size="7" font-weight="bold">W</text>
<rect x="82" y="26" width="5" height="4" fill="#999"/><rect x="82" y="82" width="5" height="4" fill="#999"/>
<rect x="76" y="29" width="13" height="54" rx="2" fill="url(#gc)" stroke="#aaa" stroke-width=".5"/><rect x="80" y="38" width="5" height="36" fill="none" stroke="#aaa" stroke-width=".5"/>
<path d="M89 33L116 37Q130 41 130 50L130 62Q130 72 116 75L89 79Z" fill="url(#gc)" stroke="#aaa" stroke-width=".5"/>
<rect x="130" y="50" width="47" height="10" fill="url(#gk)"/><rect x="184" y="50" width="28" height="10" fill="url(#gk)"/>
<path d="M207 43L232 43Q236 38 246 38L316 38L328 50L328 59L316 65L246 65Q236 65 232 62L207 62Z" fill="url(#gb)"/>
<text x="271" y="56" font-size="9" fill="#e0eef5" text-anchor="middle">CH-HALL</text>
<path d="M328 52L565 52L570 54.5L565 57L328 57Z" fill="url(#gr)"/>
<text x="646" y="7" font-size="7" font-weight="bold" fill="#2a3a7a" text-anchor="middle">探头俯视图</text>
<ellipse cx="650" cy="52" rx="46" ry="50" fill="#fff" stroke="#222" stroke-width="1.4"/>
<rect x="605" y="40" width="65" height="22" fill="url(#gcu)"/><rect x="641" y="46" width="10" height="10" fill="#4a3a10"/><rect x="644" y="49" width="4" height="3" fill="#fff"/>
<g stroke="#222" stroke-width=".6" fill="none"><path d="M671 40H680M671 62H680M676 40V62M641 62V80M651 62V80M641 76H651M646 38V46"/></g>
<text x="650" y="34" font-size="6.5" font-weight="bold" fill="#2a3a7a" text-anchor="middle">霍尔器件有源区</text><text x="678" y="55" font-size="6" font-weight="bold" fill="#2a3a7a">W</text><text x="646" y="85" font-size="6" font-weight="bold" fill="#2a3a7a" text-anchor="middle">A</text>
</svg>
<div class="n" style="left:52px;top:2007px">*探头长度可定制; 可定制阵列探头</div>

<table style="left:30px;top:2022px;width:697px">
<colgroup><col style="width:71px"><col style="width:44px"><col style="width:35px"><col style="width:34px"><col style="width:43px"><col style="width:48px"><col style="width:54px"><col style="width:35px"><col style="width:84px"><col style="width:71px"><col style="width:62px"><col style="width:73px"><col style="width:43px"></colgroup>
<tr style="height:30px"><th>型号</th><th>L(cm)约</th><th>T(mm)<br>max</th><th>W<br>(mm)</th><th>A(mm)</th><th>有源区直径<br>(mm)</th><th>频率范围</th><th>满量程</th><th>精度（线性度）</th><th>工作温区</th><th>零场温度系数<br>(max)</th><th>温度系数(max)</th><th>封装材料</th></tr>
<tr class="a" style="height:57px"><td>HCHD800F-H</td><td>6/8/10</td><td>1.00</td><td>2.0</td><td>1±0.1</td><td>0.15</td><td>DC-1kHz</td><td>300kGs</td><td class="p">±0.05% ~ 2T<br>±0.5% ~ (2-10)T<br>±1% ~ &nbsp;&nbsp;(10-30) T</td><td>-10℃ ~ +75℃</td><td>±0.08G/℃</td><td>-0.02%/℃</td><td>黄铜</td></tr>
<tr class="b" style="height:54px"><td>HCHD801F-H</td><td>6/8/10</td><td>0.80</td><td>2.2</td><td>1±0.1</td><td>0.15</td><td>DC-1kHz</td><td>300kGs</td><td class="p">±±0.05% ~ 2T<br>±0.5% ~ (2-10)T<br>±1% ~ &nbsp;&nbsp;(10-30) T</td><td>-10℃ ~ +75℃</td><td>±0.08 G/℃</td><td>-0.02%/℃</td><td>黄铜</td></tr>
</table>

<div class="h" style="left:59px;top:2185px;font-size:13px;line-height:18px">高精度低磁场类探头</div>
<svg class="d" style="top:2215px" width="760" height="120" font-family="Liberation Sans,sans-serif">
<g stroke="#333" stroke-width=".6" fill="none"><path d="M78 22V40M268 22V50M384 22V55M513 22V55M432 40H438M473 77H481M483 86H490M488 70V90M492 70V90M503 70V92M500 86H508"/><line x1="79" y1="29" x2="267" y2="29" marker-start="url(#ah)" marker-end="url(#ah)"/><line x1="269" y1="29" x2="383" y2="29" marker-start="url(#ah)" marker-end="url(#ah)"/><line x1="385" y1="29" x2="512" y2="29" marker-start="url(#ah)" marker-end="url(#ah)"/><path d="M432 40V56M432 84V70M495 44V57" marker-end="url(#ah)"/></g>
<rect x="146" y="20" width="68" height="18" fill="#fff"/><text x="180" y="27" font-size="8.5" font-weight="bold" text-anchor="middle">cable length</text><text x="183" y="36" font-size="8.5" font-weight="bold" text-anchor="middle">2.5m</text>
<rect x="305" y="23" width="36" height="11" fill="#fff"/><text x="323" y="32" font-size="8.5" font-weight="bold" text-anchor="middle">70mm</text>
<rect x="398" y="23" width="12" height="11" fill="#fff"/><text x="403" y="32" font-size="8" font-weight="bold" text-anchor="middle">L</text>
<text x="445" y="44" font-size="7" font-weight="bold">T</text><text x="491" y="41" font-size="7" font-weight="bold">B</text><text x="473" y="77" font-size="7" font-weight="bold">A</text><text x="479" y="87" font-size="7" font-weight="bold">W</text>
<rect x="78" y="28" width="13" height="66" rx="2" fill="url(#gc)" stroke="#aaa" stroke-width=".5"/><rect x="82" y="40" width="5" height="42" fill="none" stroke="#aaa" stroke-width=".5"/>
<path d="M91 34L118 39Q130 44 130 54L130 68Q130 80 118 83L91 88Z" fill="url(#gc)" stroke="#aaa" stroke-width=".5"/>
<rect x="130" y="57" width="68" height="10" fill="url(#gk)"/><rect x="210" y="57" width="32" height="10" fill="url(#gk)"/>
<path d="M240 55L268 55Q272 51 282 51L362 51L384 59L384 67L362 74L282 74Q272 74 268 70L240 70Z" fill="url(#gb)"/>
<text x="316" y="67" font-size="10" fill="#e0eef5" text-anchor="middle">CH-HALL</text>
<path d="M384 59L509 59L513 63L509 67L384 67Z" fill="url(#gbk)"/>
<text x="622" y="8" font-size="7.5" font-weight="bold" fill="#2a3a7a" text-anchor="middle">探头俯视图</text>
<ellipse cx="626" cy="68" rx="55" ry="49" fill="#fff" stroke="#222" stroke-width="1.4"/>
<rect x="572" y="56" width="70" height="25" fill="url(#gbk)"/><rect x="612" y="63" width="12" height="10" fill="#5a4a20"/><rect x="615" y="66" width="5" height="3" fill="#fff"/>
<g stroke="#222" stroke-width=".6" fill="none"><path d="M643 56H652M643 81H652M648 56V81M612 73V95M628 73V95M612 92H628M618 40V63"/></g>
<text x="622" y="37" font-size="7" font-weight="bold" fill="#2a3a7a" text-anchor="middle">霍尔器件有源区</text><text x="651" y="73" font-size="7" font-weight="bold" fill="#2a3a7a">W</text><text x="620" y="102" font-size="7" font-weight="bold" fill="#2a3a7a" text-anchor="middle">A</text>
</svg>

<table style="left:30px;top:2342px;width:697px">
<colgroup><col style="width:52px"><col style="width:52px"><col style="width:47px"><col style="width:38px"><col style="width:49px"><col style="width:49px"><col style="width:38px"><col style="width:97px"><col style="width:70px"><col style="width:82px"><col style="width:76px"><col style="width:47px"></colgroup>
<tr style="height:32px"><th>型号</th><th>L(cm)约</th><th>T(mm)<br>max</th><th>W(mm)</th><th>A(mm)</th><th>分辨率</th><th>满量程</th><th>精度（线性度）</th><th>工作温区</th><th>零场温度系数<br>(max)</th><th>温度系数(max)</th><th>封装材料</th></tr>
<tr class="b" style="height:31px"><td>LHD801F</td><td>7</td><td>2.8</td><td style="font-size:10px">7.2</td><td>2±0.1</td><td>0.01uT</td><td>600uT</td><td>±0.2% ~ 100μt<br>±0.4% ~ 600μT</td><td>-10℃ ~ +75℃</td><td>±0.0008 G/℃</td><td>-0.02%/℃</td><td>塑封</td></tr>
</table>

<svg class="d" style="top:2420px" width="760" height="120" font-family="Liberation Sans,sans-serif">
<g stroke="#333" stroke-width=".6" fill="none"><path d="M75 20V40M265 20V50M380 20V55M511 20V55M430 36H436M471 76H479M481 85H488M486 68V88M490 68V88M501 68V90M498 85H506"/><line x1="76" y1="27" x2="264" y2="27" marker-start="url(#ah)" marker-end="url(#ah)"/><line x1="266" y1="27" x2="379" y2="27" marker-start="url(#ah)" marker-end="url(#ah)"/><line x1="381" y1="27" x2="510" y2="27" marker-start="url(#ah)" marker-end="url(#ah)"/><path d="M430 36V54M430 80V67M540 59H516" marker-end="url(#ah)"/></g>
<rect x="143" y="18" width="68" height="18" fill="#fff"/><text x="178" y="25" font-size="8.5" font-weight="bold" text-anchor="middle">cable length</text><text x="181" y="34" font-size="8.5" font-weight="bold" text-anchor="middle">2.5m</text>
<rect x="302" y="21" width="36" height="11" fill="#fff"/><text x="320" y="30" font-size="8.5" font-weight="bold" text-anchor="middle">70mm</text>
<rect x="396" y="21" width="12" height="11" fill="#fff"/><text x="401" y="30" font-size="8" font-weight="bold" text-anchor="middle">L</text>
<text x="443" y="40" font-size="7" font-weight="bold">T</text><text x="543" y="61" font-size="5" font-weight="bold">B</text><text x="471" y="76" font-size="7" font-weight="bold">A</text><text x="477" y="86" font-size="7" font-weight="bold">W</text>
<rect x="75" y="27" width="13" height="66" rx="2" fill="url(#gc)" stroke="#aaa" stroke-width=".5"/><rect x="79" y="39" width="5" height="42" fill="none" stroke="#aaa" stroke-width=".5"/>
<path d="M88 33L115 38Q127 43 127 53L127 67Q127 79 115 82L88 87Z" fill="url(#gc)" stroke="#aaa" stroke-width=".5"/>
<rect x="127" y="56" width="68" height="10" fill="url(#gk)"/><rect x="207" y="56" width="32" height="10" fill="url(#gk)"/>
<path d="M237 53L265 53Q269 49 279 49L359 49L381 57L381 65L359 72L279 72Q269 72 265 68L237 68Z" fill="url(#gb)"/>
<text x="313" y="65" font-size="10" fill="#e0eef5" text-anchor="middle">CH-HALL</text>
<path d="M381 57L507 57L511 61L507 65L381 65Z" fill="url(#gbk)"/>
<text x="620" y="9" font-size="7.5" font-weight="bold" fill="#2a3a7a" text-anchor="middle">探头俯视图</text>
<ellipse cx="624" cy="67" rx="55" ry="49" fill="#fff" stroke="#222" stroke-width="1.4"/>
<rect x="570" y="55" width="70" height="25" fill="url(#gbk)"/><rect x="610" y="62" width="12" height="10" fill="#5a4a20"/><rect x="613" y="65" width="5" height="3" fill="#fff"/>
<g stroke="#222" stroke-width=".6" fill="none"><path d="M641 55H650M641 80H650M646 55V80M610 72V94M626 72V94M610 91H626M616 39V62"/></g>
<text x="620" y="36" font-size="7" font-weight="bold" fill="#2a3a7a" text-anchor="middle">霍尔器件有源区</text><text x="649" y="72" font-size="7" font-weight="bold" fill="#2a3a7a">W</text><text x="618" y="101" font-size="7" font-weight="bold" fill="#2a3a7a" text-anchor="middle">A</text>
</svg>

<table style="left:30px;top:2547px;width:697px">
<colgroup><col style="width:52px"><col style="width:52px"><col style="width:47px"><col style="width:38px"><col style="width:49px"><col style="width:49px"><col style="width:38px"><col style="width:97px"><col style="width:70px"><col style="width:82px"><col style="width:76px"><col style="width:47px"></colgroup>
<tr style="height:32px"><th>型号</th><th>L(cm)约</th><th>T(mm)<br>max</th><th>W(mm)</th><th>A(mm)</th><th>分辨率</th><th>满量程</th><th>精度（线性度）</th><th>工作温区</th><th>零场温度系数<br>(max)</th><th>温度系数(max)</th><th>封装材料</th></tr>
<tr class="b" style="height:31px"><td>AHD801F</td><td>7</td><td>2.8</td><td style="font-size:10px">7.2</td><td>2±0.1</td><td>0.01uT</td><td>600uT</td><td>±0.2% ~ 100μt<br>±0.4% ~ 600μT</td><td>-10℃ ~ +75℃</td><td>±0.0008 G/℃</td><td>-0.02%/℃</td><td>塑封</td></tr>
</table>

<div class="h" style="left:73px;top:2626px">高精度耐高温温度补偿型霍尔探头（内置温度传感器）</div>
<svg class="d" style="top:2654px" width="760" height="112" font-family="Liberation Sans,sans-serif">
<g stroke="#333" stroke-width=".6" fill="none"><path d="M77 18V40M233 18V46M329 18V50M569 18V50M368 36H374M269 77V81H286M548 67H556M553 75H560M558 60V80M562 60V80M572 62V80M566 75H572"/><line x1="78" y1="26" x2="232" y2="26" marker-start="url(#ah)" marker-end="url(#ah)"/><line x1="234" y1="26" x2="328" y2="26" marker-start="url(#ah)" marker-end="url(#ah)"/><line x1="330" y1="26" x2="568" y2="26" marker-start="url(#ah)" marker-end="url(#ah)"/><path d="M368 36V49M368 74V61M269 33V38M269 80V66M554 39V50" marker-end="url(#ah)"/></g>
<rect x="134" y="17" width="60" height="17" fill="#fff"/><text x="164" y="24" font-size="8" font-weight="bold" text-anchor="middle">cable length</text><text x="164" y="32" font-size="8" font-weight="bold" text-anchor="middle">2.5m</text>
<rect x="262" y="20" width="34" height="10" fill="#fff"/><text x="279" y="29" font-size="8" font-weight="bold" text-anchor="middle">70mm</text>
<rect x="428" y="20" width="14" height="10" fill="#fff"/><text x="435" y="29" font-size="8" font-weight="bold" text-anchor="middle">L</text>
<text x="377" y="40" font-size="7" font-weight="bold">T</text><text x="288" y="84" font-size="7" font-weight="bold">φ13mm</text><text x="551" y="37" font-size="7" font-weight="bold">B</text><text x="538" y="70" font-size="7" font-weight="bold">A</text><text x="543" y="79" font-size="7" font-weight="bold">W</text>
<rect x="82" y="26" width="5" height="4" fill="#999"/><rect x="82" y="82" width="5" height="4" fill="#999"/>
<rect x="76" y="29" width="13" height="54" rx="2" fill="url(#gc)" stroke="#aaa" stroke-width=".5"/><rect x="80" y="38" width="5" height="36" fill="none" stroke="#aaa" stroke-width=".5"/>
<path d="M89 33L116 37Q130 41 130 50L130 62Q130 72 116 75L89 79Z" fill="url(#gc)" stroke="#aaa" stroke-width=".5"/>
<rect x="130" y="50" width="47" height="10" fill="url(#gk)"/><rect x="184" y="50" width="28" height="10" fill="url(#gk)"/>
<path d="M207 43L232 43Q236 38 246 38L316 38L328 50L328 59L316 65L246 65Q236 65 232 62L207 62Z" fill="url(#gb)"/>
<text x="271" y="56" font-size="9" fill="#e0eef5" text-anchor="middle">CH-HALL</text>
<path d="M328 52L565 52L570 54.5L565 57L328 57Z" fill="url(#gr)"/>
<text x="646" y="7" font-size="7" font-weight="bold" fill="#2a3a7a" text-anchor="middle">探头俯视图</text>
<ellipse cx="650" cy="52" rx="46" ry="50" fill="#fff" stroke="#222" stroke-width="1.4"/>
<rect x="605" y="40" width="65" height="22" fill="url(#gcu)"/><rect x="641" y="46" width="10" height="10" fill="#4a3a10"/><rect x="644" y="49" width="4" height="3" fill="#fff"/>
<g stroke="#222" stroke-width=".6" fill="none"><path d="M671 40H680M671 62H680M676 40V62M641 62V80M651 62V80M641 76H651M646 38V46"/></g>
<text x="650" y="34" font-size="6.5" font-weight="bold" fill="#2a3a7a" text-anchor="middle">霍尔器件有源区</text><text x="678" y="55" font-size="6" font-weight="bold" fill="#2a3a7a">W</text><text x="646" y="85" font-size="6" font-weight="bold" fill="#2a3a7a" text-anchor="middle">A</text>
</svg>

<table style="left:31px;top:2763px;width:697px">
<colgroup><col style="width:69px"><col style="width:48px"><col style="width:35px"><col style="width:36px"><col style="width:43px"><col style="width:52px"><col style="width:43px"><col style="width:42px"><col style="width:79px"><col style="width:75px"><col style="width:61px"><col style="width:75px"><col style="width:39px"></colgroup>
<tr style="height:30px"><th>型号</th><th>L(cm)约</th><th>T(mm)<br>max</th><th>W(mm)</th><th>A(mm)</th><th>有源区直径<br>(mm)</th><th>频率范围</th><th>满量程</th><th>精度（线性度）</th><th>工作温区</th><th>零场温度系数<br>(max)</th><th>温度系数(max)</th><th>封装材料</th></tr>
<tr class="a" style="height:46px"><td>CHD800F-HT</td><td>6/8/10</td><td>1.00</td><td>2.0</td><td>1±0.1</td><td>0.15</td><td>DC-1kHz</td><td>300kGs</td><td class="p">±0.2% ~ 2T<br>±0.5% ~ (2-10)T<br>±1% ~ &nbsp;&nbsp;(10-30) T</td><td>-10℃ ~ +195℃</td><td>±0.08 G/℃</td><td>-0.008%/℃</td><td>黄铜</td></tr>
<tr class="b" style="height:45px"><td>CHD801F-HT</td><td>6/8/10</td><td>0.80</td><td>2.2</td><td>1±0.1</td><td>0.15</td><td>DC-1kHz</td><td>300kGs</td><td class="p">±0.2% ~ 2T<br>±0.5% ~ (2-10)T<br>±1% ~ &nbsp;&nbsp;(10-30) T</td><td>-10℃ ~ +195℃</td><td>±0.08 G/℃</td><td>-0.008%/℃</td><td>黄铜</td></tr>
<tr class="a" style="height:46px"><td>CHD802F-HT</td><td>6/8/10</td><td>0.60</td><td>1.7</td><td>1±0.1</td><td>0.15</td><td>DC-1kHz</td><td>300kGs</td><td class="p">±0.2% ~ 2T<br>±0.5% ~ (2-10)T<br>±1% ~ &nbsp;&nbsp;(10-30) T</td><td>-10℃ ~ +195℃</td><td>±0.08 G/℃</td><td>-0.008%/℃</td><td>黄铜</td></tr>
<tr class="b" style="height:45px"><td>MHD801F-HT</td><td>6/8/10</td><td>0.50</td><td>1.6</td><td>1±0.1</td><td>0.15</td><td>DC-1kHz</td><td>300kGs</td><td class="p">±0.2% ~ 2T<br>±0.5% ~ (2-10)T<br>±1% ~ &nbsp;&nbsp;(10-30) T</td><td>-10℃ ~ +195℃</td><td>±0.08 G/℃</td><td>-0.008%/℃</td><td>黄铜</td></tr>
<tr class="a" style="height:46px"><td>MHD802F-HT</td><td>6/8/10</td><td>0.50</td><td>1.2</td><td>1±0.1</td><td>0.15</td><td>DC-1kHz</td><td>300kGs</td><td class="p">±0.2% ~ 2T<br>±0.5% ~ (2-10)T<br>±1% ~ &nbsp;&nbsp;(10-30) T</td><td>-10℃ ~ +195℃</td><td>±0.08 G/℃</td><td>-0.008%/℃</td><td>黄铜</td></tr>
<tr class="b" style="height:45px"><td>MHD803F-HT</td><td>6/8/10</td><td>0.35</td><td>1.2/0.8</td><td>0.2±0.05</td><td>0.15</td><td>DC-50kHz</td><td>300kGs</td><td class="p">±0.2% ~ 2T<br>±0.5% ~ (2-10)T<br>±1% ~ &nbsp;&nbsp;(10-30) T</td><td>-10℃ ~ +195℃</td><td>±0.08 G/℃</td><td>-0.008%/℃</td><td>合成脂</td></tr>
<tr class="a" style="height:46px"><td>MHD803F-HT</td><td>6/8/10</td><td>0.25</td><td>1.2/0.8</td><td>0.2±0.05</td><td>0.15</td><td>DC-50kHz</td><td>300kGs</td><td class="p">±0.2% ~ 2T<br>±0.5% ~ (2-10)T<br>±1% ~ &nbsp;&nbsp;(10-30) T</td><td>-10℃ ~ +195℃</td><td>±0.08 G/℃</td><td>-0.008%/℃</td><td>合成脂</td></tr>
</table>

<div class="h" style="left:73px;top:3131px">超高精度耐高温温度补偿型霍尔探头（内置温度传感器）</div>
<svg class="d" style="top:3157px" width="760" height="112" font-family="Liberation Sans,sans-serif">
<g stroke="#333" stroke-width=".6" fill="none"><path d="M77 18V40M233 18V46M329 18V50M569 18V50M368 36H374M269 77V81H286M548 67H556M553 75H560M558 60V80M562 60V80M572 62V80M566 75H572"/><line x1="78" y1="26" x2="232" y2="26" marker-start="url(#ah)" marker-end="url(#ah)"/><line x1="234" y1="26" x2="328" y2="26" marker-start="url(#ah)" marker-end="url(#ah)"/><line x1="330" y1="26" x2="568" y2="26" marker-start="url(#ah)" marker-end="url(#ah)"/><path d="M368 36V49M368 74V61M269 33V38M269 80V66M554 39V50" marker-end="url(#ah)"/></g>
<rect x="134" y="17" width="60" height="17" fill="#fff"/><text x="164" y="24" font-size="8" font-weight="bold" text-anchor="middle">cable length</text><text x="164" y="32" font-size="8" font-weight="bold" text-anchor="middle">2.5m</text>
<rect x="262" y="20" width="34" height="10" fill="#fff"/><text x="279" y="29" font-size="8" font-weight="bold" text-anchor="middle">70mm</text>
<rect x="428" y="20" width="14" height="10" fill="#fff"/><text x="435" y="29" font-size="8" font-weight="bold" text-anchor="middle">L</text>
<text x="377" y="40" font-size="7" font-weight="bold">T</text><text x="288" y="84" font-size="7" font-weight="bold">φ13mm</text><text x="551" y="37" font-size="7" font-weight="bold">B</text><text x="538" y="70" font-size="7" font-weight="bold">A</text><text x="543" y="79" font-size="7" font-weight="bold">W</text>
<rect x="82" y="26" width="5" height="4" fill="#999"/><rect x="82" y="82" width="5" height="4" fill="#999"/>
<rect x="76" y="29" width="13" height="54" rx="2" fill="url(#gc)" stroke="#aaa" stroke-width=".5"/><rect x="80" y="38" width="5" height="36" fill="none" stroke="#aaa" stroke-width=".5"/>
<path d="M89 33L116 37Q130 41 130 50L130 62Q130 72 116 75L89 79Z" fill="url(#gc)" stroke="#aaa" stroke-width=".5"/>
<rect x="130" y="50" width="47" height="10" fill="url(#gk)"/><rect x="184" y="50" width="28" height="10" fill="url(#gk)"/>
<path d="M207 43L232 43Q236 38 246 38L316 38L328 50L328 59L316 65L246 65Q236 65 232 62L207 62Z" fill="url(#gb)"/>
<text x="271" y="56" font-size="9" fill="#e0eef5" text-anchor="middle">CH-HALL</text>
<path d="M328 52L565 52L570 54.5L565 57L328 57Z" fill="url(#gr)"/>
<text x="646" y="7" font-size="7" font-weight="bold" fill="#2a3a7a" text-anchor="middle">探头俯视图</text>
<ellipse cx="650" cy="52" rx="46" ry="50" fill="#fff" stroke="#222" stroke-width="1.4"/>
<rect x="605" y="40" width="65" height="22" fill="url(#gcu)"/><rect x="641" y="46" width="10" height="10" fill="#4a3a10"/><rect x="644" y="49" width="4" height="3" fill="#fff"/>
<g stroke="#222" stroke-width=".6" fill="none"><path d="M671 40H680M671 62H680M676 40V62M641 62V80M651 62V80M641 76H651M646 38V46"/></g>
<text x="650" y="34" font-size="6.5" font-weight="bold" fill="#2a3a7a" text-anchor="middle">霍尔器件有源区</text><text x="678" y="55" font-size="6" font-weight="bold" fill="#2a3a7a">W</text><text x="646" y="85" font-size="6" font-weight="bold" fill="#2a3a7a" text-anchor="middle">A</text>
</svg>
<div class="n" style="left:58px;top:3263px">*探头长度可定制; 可定制 阵列探头</div>

<table style="left:31px;top:3277px;width:697px">
<colgroup><col style="width:69px"><col style="width:48px"><col style="width:35px"><col style="width:36px"><col style="width:43px"><col style="width:52px"><col style="width:43px"><col style="width:42px"><col style="width:79px"><col style="width:75px"><col style="width:61px"><col style="width:75px"><col style="width:39px"></colgroup>
<tr style="height:30px"><th>型号</th><th>L(cm)约</th><th>T(mm)<br>max</th><th>W(mm)</th><th>A(mm)</th><th>有源区直径<br>(mm)</th><th>频率范围</th><th>满量程</th><th>精度（线性度）</th><th>工作温区</th><th>零场温度系数<br>(max)</th><th>温度系数(max)</th><th>封装材料</th></tr>
<tr class="a" style="height:46px"><td>HCHD800F-HT</td><td>6/8/10</td><td>1.00</td><td>2.0</td><td>1±0.1</td><td>0.15</td><td>DC-1kHz</td><td>300kGs</td><td class="p">±0.05% ~ 2T<br>±0.5% ~ (2-10)T<br>±1% ~ &nbsp;&nbsp;(10-30) T</td><td>-10℃ ~ +195℃</td><td>±0.08 G/℃</td><td>-0.008%/℃</td><td>黄铜</td></tr>
<tr class="b" style="height:45px"><td>HCHD801F-HT</td><td>6/8/10</td><td>0.80</td><td>2.2</td><td>1±0.1</td><td>0.15</td><td>DC-1kHz</td><td>300kGs</td><td class="p">±0.05% ~ 2T<br>±0.5% ~ (2-10)T<br>±1% ~ &nbsp;&nbsp;(10-30) T</td><td>-10℃ ~ +195℃</td><td>±0.08 G/℃</td><td>-0.008%/℃</td><td>黄铜</td></tr>
<tr class="a" style="height:46px"><td>HCHD802F-HT</td><td>6/8/10</td><td>0.60</td><td>1.7</td><td>1±0.1</td><td>0.15</td><td>DC-1kHz</td><td>300kGs</td><td class="p">±0.05% ~ 2T<br>±0.5% ~ (2-10)T<br>±1% ~ &nbsp;&nbsp;(10-30) T</td><td>-10℃ ~ +195℃</td><td>±0.08 G/℃</td><td>-0.008%/℃</td><td>黄铜</td></tr>
<tr class="b" style="height:45px"><td>HMHD801F-HT</td><td>6/8/10</td><td>0.50</td><td>1.6</td><td>1±0.1</td><td>0.15</td><td>DC-1kHz</td><td>300kGs</td><td class="p">±0.05% ~ 2T<br>±0.5% ~ (2-10)T<br>±1% ~ &nbsp;&nbsp;(10-30) T</td><td>-10℃ ~ +195℃</td><td>±0.08 G/℃</td><td>-0.008%/℃</td><td>黄铜</td></tr>
<tr class="a" style="height:46px"><td>HMHD802F-HT</td><td>6/8/10</td><td>0.50</td><td>1.2</td><td>1±0.1</td><td>0.15</td><td>DC-1kHz</td><td>300kGs</td><td class="p">±0.05% ~ 2T<br>±0.5% ~ (2-10)T<br>±1% ~ &nbsp;&nbsp;(10-30) T</td><td>-10℃ ~ +195℃</td><td>±0.08 G/℃</td><td>-0.008%/℃</td><td>黄铜</td></tr>
<tr class="b" style="height:45px"><td>HMHD803F-HT</td><td>6/8/10</td><td>0.35</td><td>1.2/0.8</td><td>0.2±0.05</td><td>0.15</td><td>DC-50kHz</td><td>300kGs</td><td class="p">±0.05% ~ 2T<br>±0.5% ~ (2-10)T<br>±1% ~ &nbsp;&nbsp;(10-30) T</td><td>-10℃ ~ +195℃</td><td>±0.08 G/℃</td><td>-0.008%/℃</td><td>合成脂</td></tr>
<tr class="a" style="height:46px"><td>HMHD803F-HT</td><td>6/8/10</td><td>0.25</td><td>1.2/0.8</td><td>0.2±0.05</td><td>0.15</td><td>DC-50kHz</td><td>300kGs</td><td class="p">±0.05% ~ 2T<br>±0.5% ~ (2-10)T<br>±1% ~ &nbsp;&nbsp;(10-30) T</td><td>-10℃ ~ +195℃</td><td>±0.08 G/℃</td><td>-0.008%/℃</td><td>合成脂</td></tr>
</table>

<div class="h" style="left:86px;top:3642px">高精度耐低温温度补偿型霍尔探头</div>
<svg class="d" style="top:3695px;left:14px" width="746" height="112" font-family="Liberation Sans,sans-serif">
<g stroke="#333" stroke-width=".6" fill="none"><path d="M77 18V40M233 18V46M329 18V50M569 18V50M368 36H374M269 77V81H286M548 67H556M553 75H560M558 60V80M562 60V80M572 62V80M566 75H572"/><line x1="78" y1="26" x2="232" y2="26" marker-start="url(#ah)" marker-end="url(#ah)"/><line x1="234" y1="26" x2="328" y2="26" marker-start="url(#ah)" marker-end="url(#ah)"/><line x1="330" y1="26" x2="568" y2="26" marker-start="url(#ah)" marker-end="url(#ah)"/><path d="M368 36V49M368 74V61M269 33V38M269 80V66M554 39V50" marker-end="url(#ah)"/></g>
<rect x="134" y="17" width="60" height="17" fill="#fff"/><text x="164" y="24" font-size="8" font-weight="bold" text-anchor="middle">cable length</text><text x="164" y="32" font-size="8" font-weight="bold" text-anchor="middle">2.5m</text>
<rect x="262" y="20" width="34" height="10" fill="#fff"/><text x="279" y="29" font-size="8" font-weight="bold" text-anchor="middle">70mm</text>
<rect x="428" y="20" width="14" height="10" fill="#fff"/><text x="435" y="29" font-size="8" font-weight="bold" text-anchor="middle">L</text>
<text x="377" y="40" font-size="7" font-weight="bold">T</text><text x="288" y="84" font-size="7" font-weight="bold">φ13mm</text><text x="551" y="37" font-size="7" font-weight="bold">B</text><text x="538" y="70" font-size="7" font-weight="bold">A</text><text x="543" y="79" font-size="7" font-weight="bold">W</text>
<rect x="82" y="26" width="5" height="4" fill="#999"/><rect x="82" y="82" width="5" height="4" fill="#999"/>
<rect x="76" y="29" width="13" height="54" rx="2" fill="url(#gc)" stroke="#aaa" stroke-width=".5"/><rect x="80" y="38" width="5" height="36" fill="none" stroke="#aaa" stroke-width=".5"/>
<path d="M89 33L116 37Q130 41 130 50L130 62Q130 72 116 75L89 79Z" fill="url(#gc)" stroke="#aaa" stroke-width=".5"/>
<rect x="130" y="50" width="47" height="10" fill="url(#gk)"/><rect x="184" y="50" width="28" height="10" fill="url(#gk)"/>
<path d="M207 43L232 43Q236 38 246 38L316 38L328 50L328 59L316 65L246 65Q236 65 232 62L207 62Z" fill="url(#gb)"/>
<text x="271" y="56" font-size="9" fill="#e0eef5" text-anchor="middle">CH-HALL</text>
<path d="M328 52L565 52L570 54.5L565 57L328 57Z" fill="url(#gr)"/>
<text x="646" y="7" font-size="7" font-weight="bold" fill="#2a3a7a" text-anchor="middle">探头俯视图</text>
<ellipse cx="650" cy="52" rx="46" ry="50" fill="#fff" stroke="#222" stroke-width="1.4"/>
<rect x="605" y="40" width="65" height="22" fill="url(#gcu)"/><rect x="641" y="46" width="10" height="10" fill="#4a3a10"/><rect x="644" y="49" width="4" height="3" fill="#fff"/>
<g stroke="#222" stroke-width=".6" fill="none"><path d="M671 40H680M671 62H680M676 40V62M641 62V80M651 62V80M641 76H651M646 38V46"/></g>
<text x="650" y="34" font-size="6.5" font-weight="bold" fill="#2a3a7a" text-anchor="middle">霍尔器件有源区</text><text x="678" y="55" font-size="6" font-weight="bold" fill="#2a3a7a">W</text><text x="646" y="85" font-size="6" font-weight="bold" fill="#2a3a7a" text-anchor="middle">A</text>
</svg>
<div class="n" style="left:53px;top:3811px">*探头长度可定制; 可定制 阵列探头</div>

<table style="left:31px;top:3825px;width:697px">
<colgroup><col style="width:70px"><col style="width:31px"><col style="width:32px"><col style="width:36px"><col style="width:39px"><col style="width:33px"><col style="width:59px"><col style="width:40px"><col style="width:80px"><col style="width:79px"><col style="width:79px"><col style="width:71px"><col style="width:48px"></colgroup>
<tr style="height:46px"><th>型号</th><th>L(cm)<br>约</th><th>T(mm)<br>max</th><th>W(mm)</th><th>A(mm)</th><th>有源区<br>直径<br>(mm)</th><th>频率范围</th><th>满量程</th><th>常温精度（线性度）</th><th>工作温区</th><th>零场温度系数<br>(max)</th><th>温度系数(max)</th><th>封装材料</th></tr>
<tr class="a" style="height:47px"><td>MCHD800F-LT</td><td>6/8/10</td><td>1.00</td><td>2.0</td><td>1±0.1</td><td>0.15</td><td>DC-1kHz</td><td>300kGs</td><td class="p">±0.2% ~ 2T<br>±0.5% ~ (2-10)T<br>±1% ~ &nbsp;&nbsp;(10-30) T</td><td>-269℃ ~ +75℃</td><td>±0.08 G/℃</td><td>-0.008%/℃</td><td>黄铜</td></tr>
<tr class="b" style="height:47px"><td>MCHD801F-LT</td><td>6/8/10</td><td>0.80</td><td>2.2</td><td>1±0.1</td><td>0.15</td><td>DC-1kHz</td><td>300kGs</td><td class="p">±0.2% ~ 2T<br>±0.5% ~ (2-10)T<br>±1% ~ &nbsp;&nbsp;(10-30) T</td><td>-269℃ ~ +75℃</td><td>±0.08 G/℃</td><td>-0.008%/℃</td><td>黄铜</td></tr>
<tr class="a" style="height:47px"><td>MMHD801F-LT</td><td>6/8/10</td><td>0.50</td><td>1.6</td><td>1±0.1</td><td>0.15</td><td>DC-1kHz</td><td>300kGs</td><td class="p">±0.2% ~ 2T<br>±0.5% ~ (2-10)T<br>±1% ~ &nbsp;&nbsp;(10-30) T</td><td>-269℃ ~ +75℃</td><td>±0.08 G/℃</td><td>-0.008%/℃</td><td>黄铜</td></tr>
<tr class="b" style="height:47px"><td>MMHD802F-LT</td><td>6/8/10</td><td>0.50</td><td>1.2</td><td>1±0.1</td><td>0.15</td><td>DC-1kHz</td><td>300kGs</td><td class="p">±0.2% ~ 2T<br>±0.5% ~ (2-10)T<br>±1% ~ &nbsp;&nbsp;(10-30) T</td><td>-269℃ ~ +75℃</td><td>±0.08 G/℃</td><td>-0.008%/℃</td><td>黄铜</td></tr>
<tr class="a" style="height:47px"><td>MMHD803F-LT</td><td>6/8/10</td><td>0.35</td><td>1.2/0.8</td><td>0.2±0.05</td><td>0.15</td><td>DC-1kHz</td><td>300kGs</td><td class="p">±0.2% ~ 2T<br>±0.5% ~ (2-10)T<br>±1% ~ &nbsp;&nbsp;(10-30) T</td><td>-269℃ ~ +75℃</td><td>±0.08 G/℃</td><td>-0.008%/℃</td><td>黄铜</td></tr>
<tr class="b" style="height:47px"><td>MMHD804F-LT</td><td>6/8/10</td><td>0.25</td><td>1.2</td><td>0.2±0.05</td><td>0.15</td><td>DC-1kHz</td><td>300kGs</td><td class="p">±0.2% ~ 2T<br>±0.5% ~ (2-10)T<br>±1% ~ &nbsp;&nbsp;(10-30) T</td><td>-269℃ ~ +75℃</td><td>±0.08 G/℃</td><td>-0.008%/℃</td><td>黄铜</td></tr>
</table>

<div class="h" style="left:70px;top:4173px">超高精度耐低温温度补偿型霍尔探头</div>
<svg class="d" style="top:4200px" width="760" height="112" font-family="Liberation Sans,sans-serif">
<g stroke="#333" stroke-width=".6" fill="none"><path d="M77 18V40M233 18V46M329 18V50M569 18V50M368 36H374M269 77V81H286M548 67H556M553 75H560M558 60V80M562 60V80M572 62V80M566 75H572"/><line x1="78" y1="26" x2="232" y2="26" marker-start="url(#ah)" marker-end="url(#ah)"/><line x1="234" y1="26" x2="328" y2="26" marker-start="url(#ah)" marker-end="url(#ah)"/><line x1="330" y1="26" x2="568" y2="26" marker-start="url(#ah)" marker-end="url(#ah)"/><path d="M368 36V49M368 74V61M269 33V38M269 80V66M554 39V50" marker-end="url(#ah)"/></g>
<rect x="134" y="17" width="60" height="17" fill="#fff"/><text x="164" y="24" font-size="8" font-weight="bold" text-anchor="middle">cable length</text><text x="164" y="32" font-size="8" font-weight="bold" text-anchor="middle">2.5m</text>
<rect x="262" y="20" width="34" height="10" fill="#fff"/><text x="279" y="29" font-size="8" font-weight="bold" text-anchor="middle">70mm</text>
<rect x="428" y="20" width="14" height="10" fill="#fff"/><text x="435" y="29" font-size="8" font-weight="bold" text-anchor="middle">L</text>
<text x="377" y="40" font-size="7" font-weight="bold">T</text><text x="288" y="84" font-size="7" font-weight="bold">φ13mm</text><text x="551" y="37" font-size="7" font-weight="bold">B</text><text x="538" y="70" font-size="7" font-weight="bold">A</text><text x="543" y="79" font-size="7" font-weight="bold">W</text>
<rect x="82" y="26" width="5" height="4" fill="#999"/><rect x="82" y="82" width="5" height="4" fill="#999"/>
<rect x="76" y="29" width="13" height="54" rx="2" fill="url(#gc)" stroke="#aaa" stroke-width=".5"/><rect x="80" y="38" width="5" height="36" fill="none" stroke="#aaa" stroke-width=".5"/>
<path d="M89 33L116 37Q130 41 130 50L130 62Q130 72 116 75L89 79Z" fill="url(#gc)" stroke="#aaa" stroke-width=".5"/>
<rect x="130" y="50" width="47" height="10" fill="url(#gk)"/><rect x="184" y="50" width="28" height="10" fill="url(#gk)"/>
<path d="M207 43L232 43Q236 38 246 38L316 38L328 50L328 59L316 65L246 65Q236 65 232 62L207 62Z" fill="url(#gb)"/>
<text x="271" y="56" font-size="9" fill="#e0eef5" text-anchor="middle">CH-HALL</text>
<path d="M328 52L565 52L570 54.5L565 57L328 57Z" fill="url(#gr)"/>
<text x="646" y="7" font-size="7" font-weight="bold" fill="#2a3a7a" text-anchor="middle">探头俯视图</text>
<ellipse cx="650" cy="52" rx="46" ry="50" fill="#fff" stroke="#222" stroke-width="1.4"/>
<rect x="605" y="40" width="65" height="22" fill="url(#gcu)"/><rect x="641" y="46" width="10" height="10" fill="#4a3a10"/><rect x="644" y="49" width="4" height="3" fill="#fff"/>
<g stroke="#222" stroke-width=".6" fill="none"><path d="M671 40H680M671 62H680M676 40V62M641 62V80M651 62V80M641 76H651M646 38V46"/></g>
<text x="650" y="34" font-size="6.5" font-weight="bold" fill="#2a3a7a" text-anchor="middle">霍尔器件有源区</text><text x="678" y="55" font-size="6" font-weight="bold" fill="#2a3a7a">W</text><text x="646" y="85" font-size="6" font-weight="bold" fill="#2a3a7a" text-anchor="middle">A</text>
</svg>
<div class="n" style="left:53px;top:4305px">*探头长度可定制; 可定制 阵列探头</div>

<table style="left:31px;top:4318px;width:697px">
<colgroup><col style="width:69px"><col style="width:47px"><col style="width:33px"><col style="width:36px"><col style="width:46px"><col style="width:55px"><col style="width:54px"><col style="width:32px"><col style="width:82px"><col style="width:73px"><col style="width:59px"><col style="width:69px"><col style="width:42px"></colgroup>
<tr style="height:33px"><th>型号</th><th>L(cm)约</th><th>T(mm)<br>max</th><th>W(mm)</th><th>A(mm)</th><th>有源区直径<br>(mm)</th><th>频率范围</th><th>满量程</th><th>常温精度（线性度）</th><th>工作温区</th><th>零场温度系数<br>(max)</th><th>温度系数(max)</th><th>封装材料</th></tr>
<tr class="a" style="height:48px"><td>HCHD800F-LT</td><td>6/8/10</td><td>1.00</td><td>2.0</td><td>1±0.1</td><td>0.15</td><td>DC-1kHz</td><td>300kGs</td><td class="p">±0.05% ~ 2T<br>±0.5% ~ (2-10)T<br>±1% ~ &nbsp;&nbsp;(10-30) T</td><td>-269℃ ~ +75℃</td><td>±0.08 G/℃</td><td>-0.008%/℃</td><td>黄铜</td></tr>
<tr class="b" style="height:48px"><td>HCHD801F-LT</td><td>6/8/10</td><td>0.80</td><td>2.2</td><td>1±0.1</td><td>0.15</td><td>DC-1kHz</td><td>300kGs</td><td class="p">±0.05% ~ 2T<br>±0.5% ~ (2-10)T<br>±1% ~ &nbsp;&nbsp;(10-30) T</td><td>-269℃ ~ +75℃</td><td>±0.08 G/℃</td><td>-0.008%/℃</td><td>黄铜</td></tr>
<tr class="a" style="height:48px"><td>HMHD801F-LT</td><td>6/8/10</td><td>0.50</td><td>1.6</td><td>1±0.1</td><td>0.15</td><td>DC-1kHz</td><td>300kGs</td><td class="p">±0.05% ~ 2T<br>±0.5% ~ (2-10)T<br>±1% ~ &nbsp;&nbsp;(10-30) T</td><td>-269℃ ~ +75℃</td><td>±0.08 G/℃</td><td>-0.008%/℃</td><td>黄铜</td></tr>
<tr class="b" style="height:48px"><td>HMHD802F-LT</td><td>6/8/10</td><td>0.50</td><td>1.2</td><td>1±0.1</td><td>0.15</td><td>DC-1kHz</td><td>300kGs</td><td class="p">±0.05% ~ 2T<br>±0.5% ~ (2-10)T<br>±1% ~ &nbsp;&nbsp;(10-30) T</td><td>-269℃ ~ +75℃</td><td>±0.08 G/℃</td><td>-0.008%/℃</td><td>黄铜</td></tr>
</table>

<div class="h" style="left:69px;top:4568px">高精度耐高低温温度补偿型霍尔探头</div>
<svg class="d" style="top:4612px;left:0" width="760" height="112" viewBox="4 0 760 112" font-family="Liberation Sans,sans-serif">
<g stroke="#333" stroke-width=".6" fill="none"><path d="M77 18V40M233 18V46M329 18V50M569 18V50M368 36H374M269 77V81H286M548 67H556M553 75H560M558 60V80M562 60V80M572 62V80M566 75H572"/><line x1="78" y1="26" x2="232" y2="26" marker-start="url(#ah)" marker-end="url(#ah)"/><line x1="234" y1="26" x2="328" y2="26" marker-start="url(#ah)" marker-end="url(#ah)"/><line x1="330" y1="26" x2="568" y2="26" marker-start="url(#ah)" marker-end="url(#ah)"/><path d="M368 36V49M368 74V61M269 33V38M269 80V66M554 39V50" marker-end="url(#ah)"/></g>
<rect x="134" y="17" width="60" height="17" fill="#fff"/><text x="164" y="24" font-size="8" font-weight="bold" text-anchor="middle">cable length</text><text x="164" y="32" font-size="8" font-weight="bold" text-anchor="middle">2.5m</text>
<rect x="262" y="20" width="34" height="10" fill="#fff"/><text x="279" y="29" font-size="8" font-weight="bold" text-anchor="middle">70mm</text>
<rect x="428" y="20" width="14" height="10" fill="#fff"/><text x="435" y="29" font-size="8" font-weight="bold" text-anchor="middle">L</text>
<text x="377" y="40" font-size="7" font-weight="bold">T</text><text x="288" y="84" font-size="7" font-weight="bold">φ13mm</text><text x="551" y="37" font-size="7" font-weight="bold">B</text><text x="538" y="70" font-size="7" font-weight="bold">A</text><text x="543" y="79" font-size="7" font-weight="bold">W</text>
<rect x="82" y="26" width="5" height="4" fill="#999"/><rect x="82" y="82" width="5" height="4" fill="#999"/>
<rect x="76" y="29" width="13" height="54" rx="2" fill="url(#gc)" stroke="#aaa" stroke-width=".5"/><rect x="80" y="38" width="5" height="36" fill="none" stroke="#aaa" stroke-width=".5"/>
<path d="M89 33L116 37Q130 41 130 50L130 62Q130 72 116 75L89 79Z" fill="url(#gc)" stroke="#aaa" stroke-width=".5"/>
<rect x="130" y="50" width="47" height="10" fill="url(#gk)"/><rect x="184" y="50" width="28" height="10" fill="url(#gk)"/>
<path d="M207 43L232 43Q236 38 246 38L316 38L328 50L328 59L316 65L246 65Q236 65 232 62L207 62Z" fill="url(#gb)"/>
<text x="271" y="56" font-size="9" fill="#e0eef5" text-anchor="middle">CH-HALL</text>
<path d="M328 52L565 52L570 54.5L565 57L328 57Z" fill="url(#gr)"/>
<text x="646" y="7" font-size="7" font-weight="bold" fill="#2a3a7a" text-anchor="middle">探头俯视图</text>
<ellipse cx="650" cy="52" rx="46" ry="50" fill="#fff" stroke="#222" stroke-width="1.4"/>
<rect x="605" y="40" width="65" height="22" fill="url(#gcu)"/><rect x="641" y="46" width="10" height="10" fill="#4a3a10"/><rect x="644" y="49" width="4" height="3" fill="#fff"/>
<g stroke="#222" stroke-width=".6" fill="none"><path d="M671 40H680M671 62H680M676 40V62M641 62V80M651 62V80M641 76H651M646 38V46"/></g>
<text x="650" y="34" font-size="6.5" font-weight="bold" fill="#2a3a7a" text-anchor="middle">霍尔器件有源区</text><text x="678" y="55" font-size="6" font-weight="bold" fill="#2a3a7a">W</text><text x="646" y="85" font-size="6" font-weight="bold" fill="#2a3a7a" text-anchor="middle">A</text>
</svg>
<div class="n" style="left:53px;top:4717px">*探头长度可定制; 可定制 阵列探头</div>

<table style="left:31px;top:4731px;width:698px">
<colgroup><col style="width:70px"><col style="width:48px"><col style="width:37px"><col style="width:37px"><col style="width:47px"><col style="width:48px"><col style="width:53px"><col style="width:32px"><col style="width:86px"><col style="width:79px"><col style="width:60px"><col style="width:61px"><col style="width:40px"></colgroup>
<tr style="height:32px"><th>型号</th><th>L(cm)约</th><th>T(mm)<br>max</th><th>W(mm)</th><th>A(mm)</th><th>有源区直径<br>(mm)</th><th>频率范围</th><th>满量程</th><th>精度（线性度）</th><th>工作温区</th><th>零场温度系数<br>(max)</th><th>温度系数<br>(max)</th><th>封装材料</th></tr>
<tr class="a" style="height:48px"><td>HCHD800F-HL</td><td>6/8/10</td><td>1.00</td><td>2.0</td><td>1±0.1</td><td>0.15</td><td>DC-1kHz</td><td>300kGs</td><td class="p">±0.05% ~ 2T<br>±0.5% ~ (2-10)T<br>±1% ~ &nbsp;&nbsp;(10-30) T</td><td>-269℃ ~ +200℃</td><td>±0.08 G/℃</td><td>-0.008%/℃</td><td>黄铜</td></tr>
<tr class="b" style="height:48px"><td>HCHD801F-HL</td><td>6/8/10</td><td>0.80</td><td>2.2</td><td>1±0.1</td><td>0.15</td><td>DC-1kHz</td><td>300kGs</td><td class="p">±0.05% ~ 2T<br>±0.5% ~ (2-10)T<br>±1% ~ &nbsp;&nbsp;(10-30) T</td><td>-269℃ ~ +200℃</td><td>±0.08 G/℃</td><td>-0.008%/℃</td><td>黄铜</td></tr>
<tr class="a" style="height:49px"><td>HMHD801F-HL</td><td>6/8/10</td><td>0.50</td><td>1.6</td><td>1±0.1</td><td>0.15</td><td>DC-1kHz</td><td>300kGs</td><td class="p">±0.05% ~ 2T<br>±0.5% ~ (2-10)T<br>±1% ~ &nbsp;&nbsp;(10-30) T</td><td>-269℃ ~ +200℃</td><td>±0.08 G/℃</td><td>-0.008%/℃</td><td>黄铜</td></tr>
<tr class="b" style="height:48px"><td>HMHD802F-HL</td><td>6/8/10</td><td>0.50</td><td>1.2</td><td>1±0.1</td><td>0.15</td><td>DC-1kHz</td><td>300kGs</td><td class="p">±0.05% ~ 2T<br>±0.5% ~ (2-10)T<br>±1% ~ &nbsp;&nbsp;(10-30) T</td><td>-269℃ ~ +200℃</td><td>±0.08 G/℃</td><td>-0.008%/℃</td><td>黄铜</td></tr>
</table>

<div class="h" style="left:345px;top:4976px;font-weight:normal;font-size:10px;color:#222">THANKS</div>
</body></html>
